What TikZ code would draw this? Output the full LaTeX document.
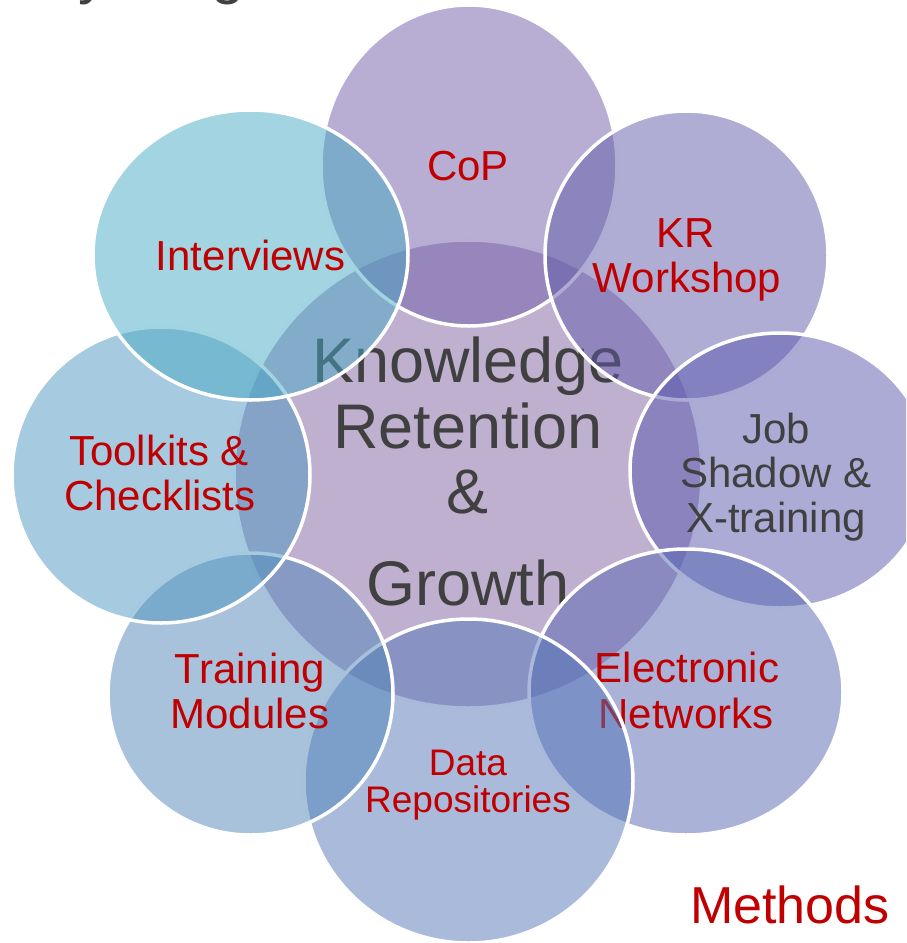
\documentclass[tikz,border=0pt]{standalone}
\usepackage{fontspec}
\setmainfont{Liberation Sans}
\usetikzlibrary{shapes.geometric}
\definecolor{cCenter}{RGB}{127,97,161}
\definecolor{cCoP}{RGB}{113,93,167}
\definecolor{cKR}{RGB}{97,91,169}
\definecolor{cJob}{RGB}{87,87,173}
\definecolor{cElec}{RGB}{85,101,177}
\definecolor{cData}{RGB}{83,117,183}
\definecolor{cTrain}{RGB}{81,133,185}
\definecolor{cTool}{RGB}{77,149,191}
\definecolor{cInt}{RGB}{71,169,195}
\definecolor{txtred}{RGB}{192,0,0}
\definecolor{txtgray}{RGB}{64,64,64}
\tikzset{
  bubble/.style={ellipse, draw=white, line width=3.5pt, fill opacity=0.5, draw opacity=1, inner sep=0pt},
  lbl/.style={anchor=base, inner sep=0pt, text=txtred, font=\fontsize{42}{45}\selectfont},
  glbl/.style={lbl, text=txtgray},
  dlbl/.style={lbl, font=\fontsize{37}{37}\selectfont},
  clbl/.style={anchor=base, inner sep=0pt, text=txtgray, font=\fontsize{63}{66}\selectfont},
  titlefrag/.style={anchor=base west, inner sep=0pt, text=txtgray, font=\fontsize{60}{60}\selectfont}
}
\begin{document}
\begin{tikzpicture}[x=1pt,y=-1pt]
\useasboundingbox (0,0) rectangle (906,943);
\clip (0,0) rectangle (906,943);
% cut-off title descenders
\node[titlefrag] (ty) at (78,-7.5) {y};
\node[titlefrag] (tg) at (211,-7.5) {g};
% centre
\node[bubble, fill=cCenter, minimum width=468pt, minimum height=468pt] (center) at (468,474) {};
\node[clbl] (k1) at (468,382) {Knowledge};
\node[clbl] (k2) at (468,448) {Retention};
\node[clbl] (k3) at (468,513) {\&};
\node[clbl] (k4) at (468,605) {Growth};
% CoP
\node[bubble, fill=cCoP, minimum width=296pt, minimum height=321pt] (cop) at (469,165.5) {};
\node[lbl] (cop1) at (468,180) {CoP};
% KR Workshop
\node[bubble, fill=cKR, minimum width=283pt, minimum height=289pt] (kr) at (686.5,255.5) {};
\node[lbl] (kr1) at (686,247) {KR};
\node[lbl] (kr2) at (687,292) {Workshop};
% Job Shadow
\node[bubble, fill=cJob, minimum width=300pt, minimum height=275pt] (job) at (780,470.5) {};
\node[glbl] (job1) at (776,443) {Job};
\node[glbl] (job2) at (776,487) {Shadow \&};
\node[glbl] (job3) at (776,532) {X-training};
% Electronic Networks
\node[bubble, fill=cElec, minimum width=314pt, minimum height=286pt] (elec) at (686,692) {};
\node[lbl] (elec1) at (687,682) {Electronic};
\node[lbl] (elec2) at (686,728) {Networks};
% Data Repositories
\node[bubble, fill=cData, minimum width=329pt, minimum height=324pt] (data) at (468.5,781) {};
\node[dlbl] (data1) at (468,775) {Data};
\node[dlbl] (data2) at (468,812) {Repositories};
% Training Modules
\node[bubble, fill=cTrain, minimum width=285pt, minimum height=282pt] (train) at (250.5,694) {};
\node[lbl] (train1) at (250,683) {Training};
\node[lbl] (train2) at (250,728) {Modules};
% Toolkits & Checklists
\node[bubble, fill=cTool, minimum width=298pt, minimum height=296pt] (tool) at (161,475) {};
\node[lbl] (tool1) at (159,465) {Toolkits \&};
\node[lbl] (tool2) at (160,510) {Checklists};
% Interviews
\node[bubble, fill=cInt, minimum width=315pt, minimum height=290pt] (int) at (250.5,255) {};
\node[lbl] (int1) at (250.5,270) {Interviews};
% Methods
\node[anchor=base, inner sep=0pt, text=txtred, font=\fontsize{52}{52}\selectfont] (methods) at (790,923) {Methods};
\end{tikzpicture}
\end{document}
